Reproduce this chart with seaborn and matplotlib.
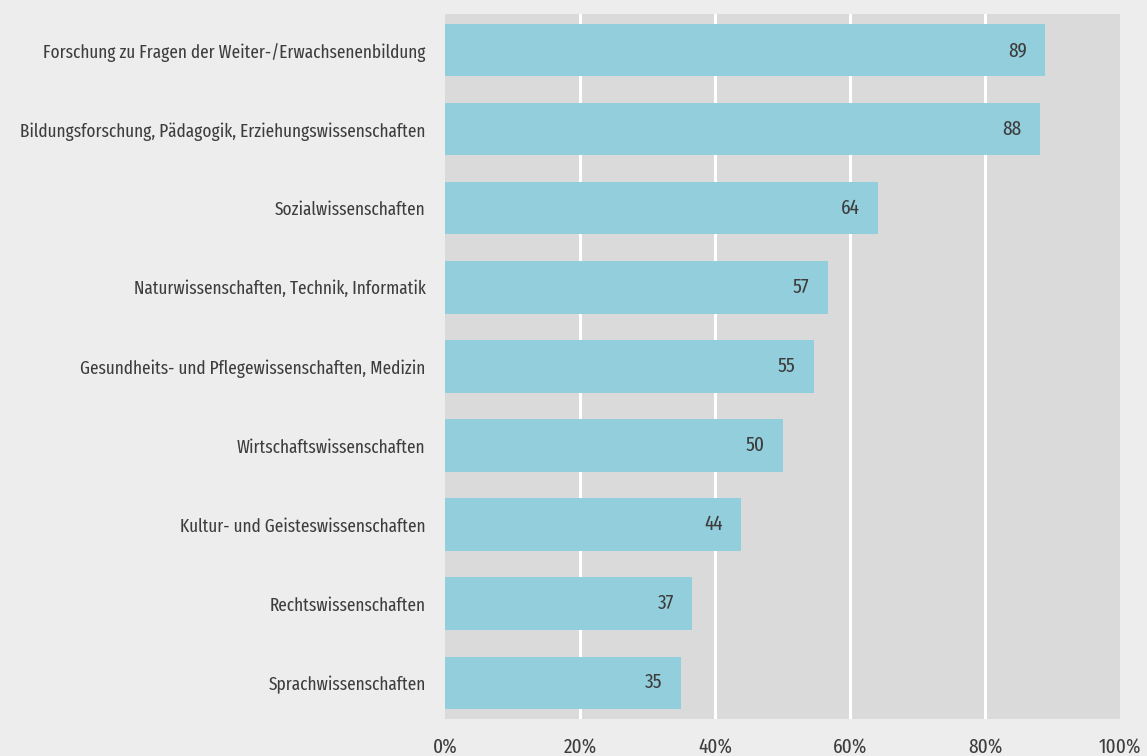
import pandas as pd
import seaborn as sns
import matplotlib.pyplot as plt

# Anteile je Fachrichtung (Werte in %)
kategorien = [
    'Forschung zu Fragen der Weiter-/Erwachsenenbildung',
    'Bildungsforschung, Pädagogik, Erziehungswissenschaften',
    'Sozialwissenschaften',
    'Naturwissenschaften, Technik, Informatik',
    'Gesundheits- und Pflegewissenschaften, Medizin',
    'Wirtschaftswissenschaften',
    'Kultur- und Geisteswissenschaften',
    'Rechtswissenschaften',
    'Sprachwissenschaften',
]
werte = [88.9, 88.1, 64.2, 56.7, 54.6, 50.0, 43.9, 36.6, 34.9]
beschriftung = ['89', '88', '64', '57', '55', '50', '44', '37', '35']
ticks = [0, 20, 40, 60, 80, 100]
tick_labels = ['0%', '20%', '40%', '60%', '80%', '100%']

df = pd.DataFrame({'kategorie': kategorien, 'wert': werte})

sns.set_style('white')
plt.rcParams['font.family'] = ['Fira Sans Extra Condensed', 'Fira Sans Condensed', 'DejaVu Sans']

textfarbe = '#3d3d3d'
fig = plt.figure(figsize=(11.47, 7.56), dpi=100, facecolor='#ededed')
ax = fig.add_axes([0.388, 0.049, 0.5885, 0.9325])
ax.set_facecolor('#dadada')

sns.barplot(data=df, x='wert', y='kategorie', orient='h', color='#93cedc',
            saturation=1, width=0.66, linewidth=0, ax=ax, zorder=3)

for i, (w, t) in enumerate(zip(werte, beschriftung)):
    ax.text(w - 2.7, i, t, ha='right', va='center', fontsize=15,
            color=textfarbe, zorder=4)

ax.set_xlim(0, 100)
ax.set_ylim(8.46, -0.46)
ax.set_xticks(ticks)
ax.set_xticklabels(tick_labels)
ax.xaxis.grid(True, color='white', linewidth=2.2, zorder=1)
ax.set_axisbelow(True)
gl = ax.get_xgridlines()
gl[0].set_visible(False)
gl[-1].set_visible(False)
ax.tick_params(axis='y', length=0, pad=14, labelsize=13.5, labelcolor=textfarbe)
ax.tick_params(axis='x', length=0, pad=13, labelsize=15, labelcolor=textfarbe)
ax.set_xlabel('')
ax.set_ylabel('')
for s in ax.spines.values():
    s.set_visible(False)

plt.savefig('out.png', dpi=100, facecolor=fig.get_facecolor())
